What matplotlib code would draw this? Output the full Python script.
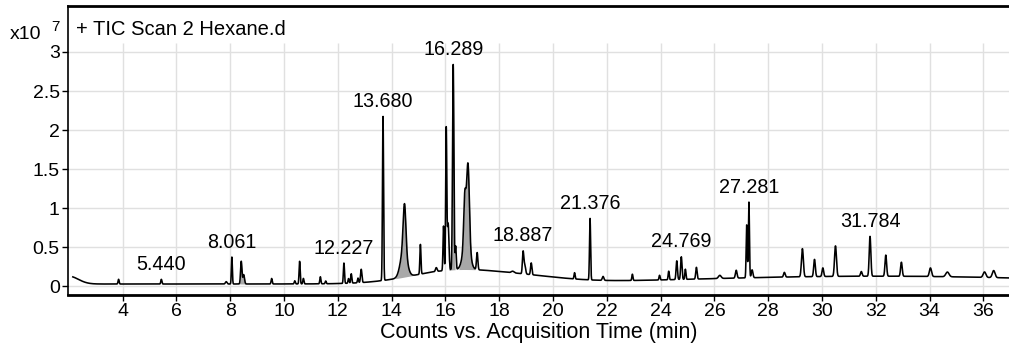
import numpy as np
from matplotlib import pyplot as plt

plt.rcParams['font.family'] = ['Liberation Sans', 'DejaVu Sans']

# peak table: retention time (min), height above baseline (x10^7 counts), sigma (min)
peak_rt = [3.85, 5.44, 7.85, 8.061, 8.41, 8.50, 9.54, 10.40, 10.58, 10.72,
           11.35, 11.55, 12.227, 12.40, 12.50, 12.75, 12.87, 13.680,
           14.48, 14.45, 15.07, 15.66, 15.93, 16.03, 16.10, 16.289, 16.38,
           16.72, 16.84, 16.78, 17.18, 18.50, 18.887, 18.95, 19.19, 20.80,
           21.376, 21.86, 22.95, 23.96, 24.30, 24.60, 24.769, 24.92, 25.33,
           26.20, 26.81, 27.20, 27.281, 27.40, 28.60, 29.27, 29.72, 30.03,
           30.50, 31.46, 31.784, 32.37, 32.95, 34.03, 34.66, 36.04, 36.38]
peak_h = [0.06, 0.06, 0.03, 0.345, 0.29, 0.12, 0.07, 0.04, 0.29, 0.07,
          0.09, 0.035, 0.26, 0.06, 0.12, 0.06, 0.17, 2.11,
          0.60, 0.35, 0.38, 0.05, 0.57, 1.80, 0.60, 2.63, 0.30,
          0.60, 1.00, 0.40, 0.22, 0.02, 0.28, 0.12, 0.15, 0.08,
          0.79, 0.05, 0.08, 0.06, 0.11, 0.24, 0.29, 0.13, 0.15,
          0.04, 0.10, 0.68, 0.97, 0.10, 0.06, 0.36, 0.22, 0.11,
          0.39, 0.06, 0.51, 0.27, 0.18, 0.11, 0.06, 0.07, 0.09]
peak_w = [0.02, 0.02, 0.03, 0.018, 0.025, 0.03, 0.02, 0.02, 0.02, 0.02,
          0.02, 0.02, 0.02, 0.02, 0.02, 0.02, 0.025, 0.02,
          0.05, 0.12, 0.02, 0.03, 0.02, 0.02, 0.03, 0.025, 0.02,
          0.04, 0.05, 0.12, 0.025, 0.05, 0.025, 0.03, 0.025, 0.02,
          0.02, 0.03, 0.02, 0.02, 0.02, 0.025, 0.025, 0.02, 0.025,
          0.05, 0.03, 0.02, 0.02, 0.03, 0.03, 0.035, 0.03, 0.03,
          0.035, 0.03, 0.03, 0.03, 0.03, 0.04, 0.06, 0.05, 0.05]

# slow baseline components: centre, height, sigma
base_offset = 0.03
base_c = [2.0, 16.3, 19.0, 32.0]
base_h = [0.10, 0.16, 0.07, 0.10]
base_s = [0.35, 1.6, 1.5, 7.0]

labels = ["5.440", "8.061", "12.227", "13.680", "16.289", "18.887",
          "21.376", "24.769", "27.281", "31.784"]

t = np.arange(2.15, 37.0, 0.004)
base = np.full_like(t, base_offset)
for c, h, s in zip(base_c, base_h, base_s):
    base += h * np.exp(-0.5 * ((t - c) / s) ** 2)
sig = base.copy()
for c, h, s in zip(peak_rt, peak_h, peak_w):
    sig += h * np.exp(-0.5 * ((t - c) / s) ** 2)

fig = plt.figure(figsize=(10.09, 3.47), dpi=100)
ax = fig.add_axes([0.0674, 0.150, 0.9326, 0.833])
xmin, xmax = 1.97, 36.95
ymin, ymax = -0.11, 3.59
ax.set_xlim(xmin, xmax)
ax.set_ylim(ymin, ymax)

xt = np.arange(4, 37, 2)
yt = [0, 0.5, 1, 1.5, 2, 2.5, 3]
ax.vlines(xt, ymin, 3.12, color="#e0e0e0", lw=1, zorder=0)
ax.hlines(yt, xmin, xmax, color="#e0e0e0", lw=1, zorder=0)

# integrated (shaded) peaks
for lo, hi in [(8.35, 8.58), (14.15, 14.9), (16.12, 16.36), (16.5, 17.1)]:
    m = (t >= lo) & (t <= hi)
    ax.fill_between(t[m], base[m], sig[m], color="#a8a8a8", lw=0, zorder=1)
ax.plot(t, sig, color="black", lw=1.15, zorder=2)

for lab in labels:
    rt = float(lab)
    m = (t > rt - 0.08) & (t < rt + 0.08)
    ax.text(rt, sig[m].max() + 0.07, lab, ha="center", va="bottom", fontsize=14.2)

ax.set_xticks(xt)
ax.set_xticklabels([str(v) for v in xt], fontsize=14)
ax.set_yticks(yt)
ax.set_yticklabels(["0", "0.5", "1", "1.5", "2", "2.5", "3"], fontsize=14)
ax.tick_params(direction="out", length=4, width=1, pad=2)
ax.spines["right"].set_visible(False)
ax.spines["top"].set_linewidth(2)
ax.spines["bottom"].set_linewidth(2)
ax.spines["left"].set_linewidth(1.2)
ax.set_xlabel("Counts vs. Acquisition Time (min)", fontsize=15.5, labelpad=1)

ax.text(0.008, 0.952, "+ TIC Scan 2 Hexane.d", transform=ax.transAxes,
        ha="left", va="top", fontsize=14.5)
fig.text(0.01, 0.900, "x10", ha="left", va="center", fontsize=14)
fig.text(0.051, 0.922, "7", ha="left", va="center", fontsize=11)

fig.savefig("out.png", dpi=100)
